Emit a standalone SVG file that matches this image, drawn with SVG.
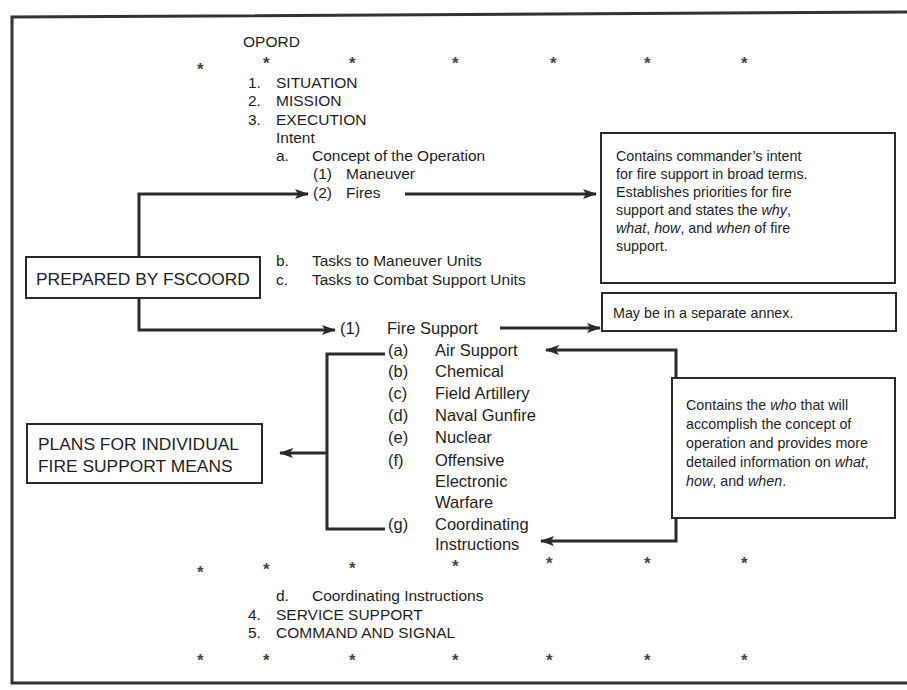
<svg xmlns="http://www.w3.org/2000/svg" width="907" height="690" viewBox="0 0 907 690">
<defs>
<marker id="ah" markerWidth="14" markerHeight="10" refX="13" refY="5" orient="auto" markerUnits="userSpaceOnUse">
<path d="M0,0 L14,5 L0,10 L3,5 z" fill="#2a2a2a"/>
</marker>
</defs>
<style>
text{font-family:"Liberation Sans",Arial,sans-serif;font-size:15.5px;fill:#1e1e1e}
.fs{font-size:16.5px}
.bx{font-size:14.3px}
.lb{font-size:17.4px}
.st{font-size:17px;font-weight:bold;fill:#444}
.it{font-style:italic}
.box{fill:#fff;stroke:#2a2a2a;stroke-width:2}
.ln{fill:none;stroke:#2a2a2a;stroke-width:3}
.frame{fill:none;stroke:#333;stroke-width:3}
</style>
<rect width="907" height="690" fill="#fff"/>
<g id="frame">
<path class="frame" d="M907,12 L12,17 L12,683 L907,683"/>
</g>
<g id="list">
<text x="243" y="47">OPORD</text>
<text class="st" x="197" y="75">*</text><text class="st" x="263" y="69">*</text><text class="st" x="349" y="69">*</text><text class="st" x="452" y="69">*</text><text class="st" x="550" y="69">*</text><text class="st" x="644" y="69">*</text><text class="st" x="741" y="69">*</text>
<text x="248" y="88">1.</text><text x="276" y="88">SITUATION</text>
<text x="248" y="106">2.</text><text x="276" y="106">MISSION</text>
<text x="248" y="125">3.</text><text x="276" y="125">EXECUTION</text>
<text x="276" y="143">Intent</text>
<text x="276" y="161">a.</text><text x="312" y="161">Concept of the Operation</text>
<text x="313" y="179">(1)</text><text x="346" y="179">Maneuver</text>
<text x="313" y="198">(2)</text><text x="346" y="198">Fires</text>
<text x="276" y="266">b.</text><text x="312" y="266">Tasks to Maneuver Units</text>
<text x="276" y="285">c.</text><text x="312" y="285">Tasks to Combat Support Units</text>
<text class="fs" x="340" y="334">(1)</text><text class="fs" x="387" y="334">Fire Support</text>
<text class="fs" x="388" y="356">(a)</text><text class="fs" x="435" y="356">Air Support</text>
<text class="fs" x="388" y="377">(b)</text><text class="fs" x="435" y="377">Chemical</text>
<text class="fs" x="388" y="399">(c)</text><text class="fs" x="435" y="399">Field Artillery</text>
<text class="fs" x="388" y="421">(d)</text><text class="fs" x="435" y="421">Naval Gunfire</text>
<text class="fs" x="388" y="443">(e)</text><text class="fs" x="435" y="443">Nuclear</text>
<text class="fs" x="388" y="466">(f)</text><text class="fs" x="435" y="466">Offensive</text>
<text class="fs" x="435" y="487">Electronic</text>
<text class="fs" x="435" y="508">Warfare</text>
<text class="fs" x="388" y="530">(g)</text><text class="fs" x="435" y="530">Coordinating</text>
<text class="fs" x="435" y="550">Instructions</text>
<text class="st" x="197" y="578">*</text><text class="st" x="263" y="575">*</text><text class="st" x="349" y="574">*</text><text class="st" x="452" y="572">*</text><text class="st" x="546" y="569">*</text><text class="st" x="644" y="569">*</text><text class="st" x="741" y="569">*</text>
<text x="276" y="601">d.</text><text x="312" y="601">Coordinating Instructions</text>
<text x="248" y="620">4.</text><text x="276" y="620">SERVICE SUPPORT</text>
<text x="248" y="638">5.</text><text x="276" y="638">COMMAND AND SIGNAL</text>
<text class="st" x="197" y="666">*</text><text class="st" x="263" y="666">*</text><text class="st" x="349" y="666">*</text><text class="st" x="452" y="666">*</text><text class="st" x="546" y="666">*</text><text class="st" x="644" y="666">*</text><text class="st" x="741" y="666">*</text>
</g>
<g id="connectors">
<path class="ln" d="M139,257 L139,194 L308,194" marker-end="url(#ah)"/>
<path class="ln" d="M139,298 L139,330 L335,330" marker-end="url(#ah)"/>
<path class="ln" d="M405,194 L596,194" marker-end="url(#ah)"/>
<path class="ln" d="M500,328 L600,328" marker-end="url(#ah)"/>
<path class="ln" d="M385,354 L327,354 L327,529 L385,529"/>
<path class="ln" d="M327,453 L280,453" marker-end="url(#ah)"/>
<path class="ln" d="M676,378 L676,350 L546,350" marker-end="url(#ah)"/>
<path class="ln" d="M676,518 L676,541 L541,541" marker-end="url(#ah)"/>
</g>
<g id="box-intent">
<rect class="box" x="601" y="133" width="294" height="150"/>
<text class="bx" x="616" y="161">Contains commander’s intent</text>
<text class="bx" x="616" y="179">for fire support in broad terms.</text>
<text class="bx" x="616" y="197">Establishes priorities for fire</text>
<text class="bx" x="616" y="215">support and states the <tspan class="it">why</tspan>,</text>
<text class="bx" x="616" y="233"><tspan class="it">what</tspan>, <tspan class="it">how</tspan>, and <tspan class="it">when</tspan> of fire</text>
<text class="bx" x="616" y="251">support.</text>
</g>
<g id="box-fscoord">
<rect class="box" x="26" y="257" width="234" height="41"/>
<text class="lb" x="36" y="285">PREPARED BY FSCOORD</text>
</g>
<g id="box-annex">
<rect class="box" x="602" y="293" width="294" height="38"/>
<text class="bx" x="613" y="318">May be in a separate annex.</text>
</g>
<g id="box-who">
<rect class="box" x="672" y="378" width="223" height="140"/>
<text class="bx" x="686" y="410">Contains the <tspan class="it">who</tspan> that will</text>
<text class="bx" x="686" y="429">accomplish the concept of</text>
<text class="bx" x="686" y="448">operation and provides more</text>
<text class="bx" x="686" y="467">detailed information on <tspan class="it">what</tspan>,</text>
<text class="bx" x="686" y="486"><tspan class="it">how</tspan>, and <tspan class="it">when</tspan>.</text>
</g>
<g id="box-plans">
<rect class="box" x="27" y="424" width="235" height="59"/>
<text class="lb" x="38" y="450">PLANS FOR INDIVIDUAL</text>
<text class="lb" x="38" y="472">FIRE SUPPORT MEANS</text>
</g>
</svg>
